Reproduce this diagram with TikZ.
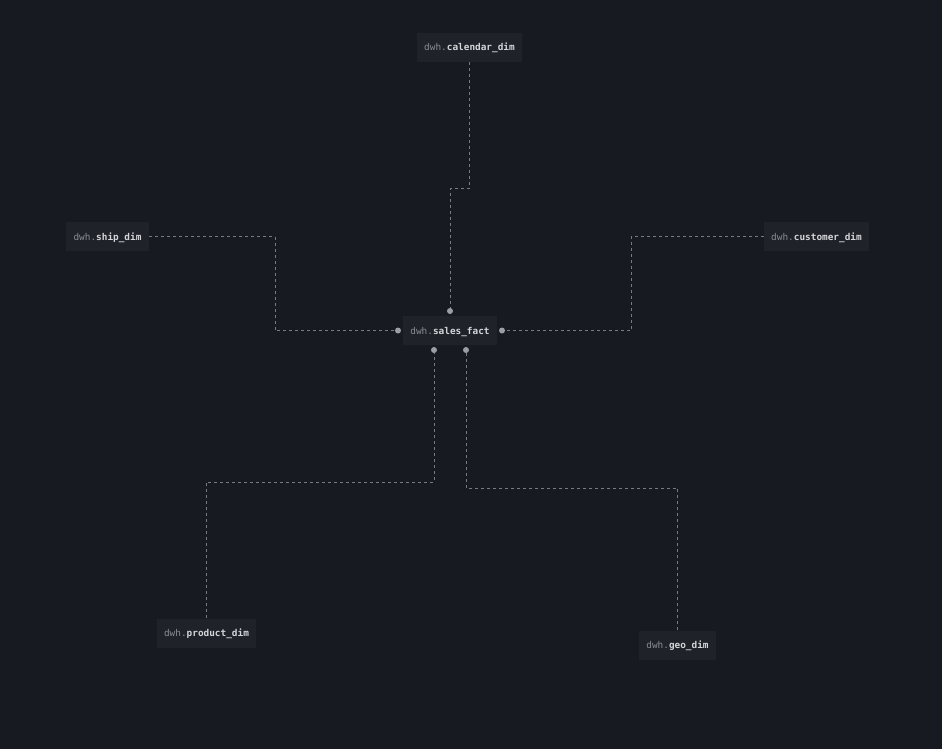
\documentclass[tikz,border=0pt]{standalone}
\usepackage{fontspec}
\setmonofont{DejaVu Sans Mono}
\usetikzlibrary{calc}
\definecolor{bg}{HTML}{171A21}
\definecolor{boxfill}{HTML}{202229}
\definecolor{dimtext}{HTML}{8A8D93}
\definecolor{nametext}{HTML}{D4D6DA}
\definecolor{linec}{HTML}{777A82}
\definecolor{dotc}{HTML}{9C9EA5}
\tikzset{
  tbl/.style={fill=boxfill, draw=none, inner xsep=7.5pt, inner ysep=0pt, minimum height=29pt,
    text height=7pt, text depth=0pt,
    font=\ttfamily\fontsize{9.4}{11}\selectfont, text=nametext},
  rel/.style={draw=linec, line width=0.9pt, dash pattern=on 3pt off 3pt},
  enddot/.style={circle, fill=dotc, inner sep=0pt, minimum size=6pt}
}
\newcommand{\tname}[1]{{\color{dimtext}dwh.}\bfseries #1}
\begin{document}
\begin{tikzpicture}[x=1pt,y=-1pt]
\fill[bg] (0,0) rectangle (942,749);
\useasboundingbox (0,0) rectangle (942,749);

\node[tbl] (fact) at (450,330.5) {\tname{sales\_fact}};
\node[tbl] (cal) at (469.5,47.5) {\tname{calendar\_dim}};
\node[tbl] (ship) at (107.5,236.5) {\tname{ship\_dim}};
\node[tbl] (cust) at (816.5,236.5) {\tname{customer\_dim}};
\node[tbl] (prod) at (206.5,633) {\tname{product\_dim}};
\node[tbl] (geo) at (677.5,645) {\tname{geo\_dim}};

\coordinate (dtop) at (450,311);
\coordinate (dleft) at (398,330.5);
\coordinate (dright) at (502,330.5);
\coordinate (dbl) at (434,350);
\coordinate (dbr) at (466,350);

\draw[rel] (cal.south) -- ($(cal.south)+(0,126)$) -| (dtop);
\draw[rel] (ship.east) -| (275,330.5) -- (dleft);
\draw[rel] (cust.west) -| (631,330.5) -- (dright);
\draw[rel] (prod.north) |- (434,482) -- (dbl);
\draw[rel] (geo.north) |- (466,488) -- (dbr);

\foreach \d in {dtop,dleft,dright,dbl,dbr} \node[enddot] at (\d) {};
\end{tikzpicture}
\end{document}
